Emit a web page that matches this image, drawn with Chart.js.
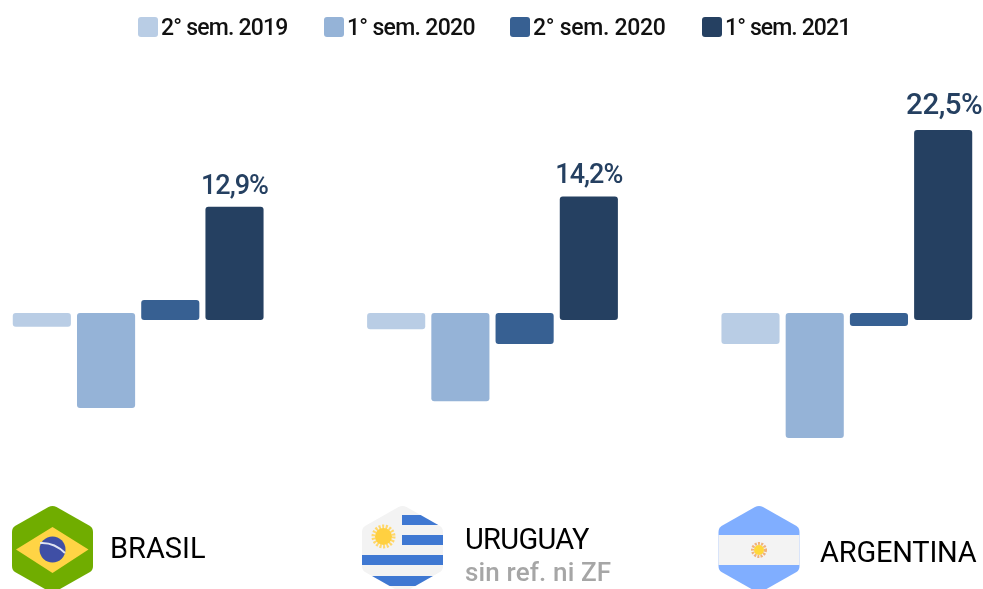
<!DOCTYPE html>
<html lang="es">
<head>
<meta charset="utf-8">
<title>Variación por país</title>
<script src="https://cdn.jsdelivr.net/npm/chart.js@4"></script>
<style>
html,body{margin:0;padding:0;background:#fff;overflow:hidden;width:983px;height:589px}
body{position:relative;font-family:Roboto,sans-serif}
#chart{position:absolute;left:-39px;top:0}
#legend{position:absolute;left:0;top:0;width:983px;height:60px}
.lg{position:absolute;top:17px;height:20px;display:flex;align-items:center;white-space:nowrap;font-size:23px;font-weight:500;color:#111}
.lg i{display:block;width:20px;height:20px;border-radius:3px;margin-right:3px}
.t{position:absolute;white-space:nowrap;color:#000;font-size:29px;line-height:34px}
svg{position:absolute;left:0;top:0;filter:blur(.7px)}
</style>
</head>
<body>
<canvas id="chart" width="1063" height="589"></canvas>
<div id="legend"></div>
<svg width="983" height="589" viewBox="0 0 983 589">
  <defs>
    <clipPath id="hexBR"><path d="M48.5,507 Q52.5,505 56.5,507 L90,526 Q93,528 93,532 L93,566 Q93,570 90,572 L56.5,591 Q52.5,593 48.5,591 L15,572 Q12,570 12,566 L12,532 Q12,528 15,526 Z"/></clipPath>
    <clipPath id="hexUY"><path transform="translate(350,0)" d="M48.5,507 Q52.5,505 56.5,507 L90,526 Q93,528 93,532 L93,566 Q93,570 90,572 L56.5,591 Q52.5,593 48.5,591 L15,572 Q12,570 12,566 L12,532 Q12,528 15,526 Z"/></clipPath>
    <clipPath id="hexAR"><path transform="translate(706.5,0)" d="M48.5,507 Q52.5,505 56.5,507 L90,526 Q93,528 93,532 L93,566 Q93,570 90,572 L56.5,591 Q52.5,593 48.5,591 L15,572 Q12,570 12,566 L12,532 Q12,528 15,526 Z"/></clipPath>
  </defs>
  <g clip-path="url(#hexBR)">
    <rect x="12" y="505" width="81" height="84" fill="#70ad00"/>
    <polygon points="16,549.5 52.5,527 88.5,549.5 52.5,573" fill="#ffd445"/>
    <circle cx="52.5" cy="549.5" r="13" fill="#3f4fa5"/>
    <path d="M40,543 Q54,542 65,553" stroke="#dfe3f2" stroke-width="2" fill="none"/>
  </g>
  <g clip-path="url(#hexUY)">
    <rect x="362" y="505" width="81" height="84" fill="#f3f3f3"/>
    <rect x="402" y="515" width="41" height="10" fill="#3f78d2"/>
    <rect x="402" y="535" width="41" height="10" fill="#3f78d2"/>
    <rect x="362" y="555" width="81" height="10" fill="#3f78d2"/>
    <rect x="362" y="576" width="81" height="10" fill="#3f78d2"/>
    <circle cx="383.5" cy="536.5" r="10" fill="none" stroke="#ffd76a" stroke-width="4" stroke-dasharray="2 1.5"/>
    <circle cx="383.5" cy="536.5" r="8.5" fill="#ffd040"/>
  </g>
  <g clip-path="url(#hexAR)">
    <rect x="718" y="505" width="82" height="84" fill="#80aeff"/>
    <rect x="718" y="535" width="82" height="30" fill="#f3f3f3"/>
    <circle cx="759" cy="550" r="6.5" fill="none" stroke="#f0b27a" stroke-width="3" stroke-dasharray="2 1.2"/>
    <circle cx="759" cy="550" r="5" fill="#ffd83a"/>
  </g>
</svg>
<div class="t" style="left:110px;top:531px">BRASIL</div>
<div class="t" style="left:465px;top:522px;letter-spacing:-.7px">URUGUAY</div>
<div class="t" style="left:465px;top:555px;color:#a6a6a6;font-size:26px;font-weight:500;letter-spacing:.15px">sin ref. ni ZF</div>
<div class="t" style="left:820px;top:535px;letter-spacing:-.2px">ARGENTINA</div>
<script>
const countries = ['BRASIL', 'URUGUAY', 'ARGENTINA'];
const seriesNames = ['2° sem. 2019', '1° sem. 2020', '2° sem. 2020', '1° sem. 2021'];
const seriesColors = ['#b9cde5', '#95b3d7', '#376092', '#254061'];
const sem2_2019 = [-2.1, -2.4, -4.25];
const sem1_2020 = [-12.25, -11.4, -16];
const sem2_2020 = [1.25, -4.25, -2];
const sem1_2021 = [12.9, 14.2, 22.5];
const legendLefts = [138, 324, 510, 702];
const legendTracking = [-0.8, -0.7, -0.3, -0.9];
const labelLift = [13, 13, 16];
const labelSizes = [27, 27, 29.5];
const labelTracking = [-1, -1, -0.5];
const labelShift = [0, 0, 1];
// The source draws positive bars from a lower base than negative ones
const positiveBase = -1.25;
const negativeBase = -0.375;
const span = v => [v > 0 ? positiveBase : negativeBase, v];

const valueLabels = {
  id: 'valueLabels',
  afterDatasetsDraw(chart) {
    const ctx = chart.ctx, i = chart.data.datasets.length - 1;
    ctx.save();
    ctx.fillStyle = '#254061';
    ctx.textAlign = 'center';
    ctx.textBaseline = 'alphabetic';
    chart.getDatasetMeta(i).data.forEach((bar, k) => {
      ctx.font = '500 ' + labelSizes[k] + 'px Roboto, sans-serif';
      ctx.letterSpacing = labelTracking[k] + 'px';
      ctx.fillText(sem1_2021[k].toFixed(1).replace('.', ',') + '%', bar.x + labelShift[k], bar.y - labelLift[k]);
    });
    ctx.restore();
  }
};

const values = [sem2_2019, sem1_2020, sem2_2020, sem1_2021];
new Chart(document.getElementById('chart'), {
  type: 'bar',
  data: {
    labels: countries,
    datasets: values.map((vals, i) => ({
      label: seriesNames[i],
      data: vals.map(span),
      backgroundColor: seriesColors[i],
      borderRadius: 3,
      borderSkipped: false,
      categoryPercentage: 0.725,
      barPercentage: 0.905
    }))
  },
  options: {
    responsive: false,
    animation: false,
    layout: { padding: 0 },
    plugins: { legend: { display: false }, tooltip: { enabled: false } },
    scales: {
      x: { display: false },
      y: { display: false, min: -34.875, max: 38.75 }
    }
  },
  plugins: [valueLabels]
});

const legend = document.getElementById('legend');
seriesNames.forEach((name, i) => {
  const el = document.createElement('div');
  el.className = 'lg';
  el.style.left = legendLefts[i] + 'px';
  el.style.letterSpacing = legendTracking[i] + 'px';
  const box = document.createElement('i');
  box.style.background = seriesColors[i];
  el.appendChild(box);
  el.appendChild(document.createTextNode(name));
  legend.appendChild(el);
});
</script>
</body>
</html>
